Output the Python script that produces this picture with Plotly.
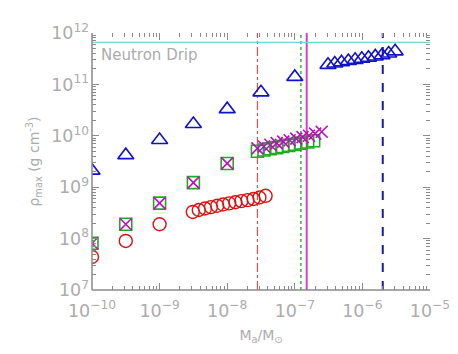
import plotly.graph_objects as go

# 데이터
tri_x = [1e-10, 3.16e-10, 1e-9, 3.16e-9, 1e-8, 3.16e-8, 1e-7,
         3.1e-7, 3.9e-7, 4.9e-7, 6.2e-7, 7.8e-7, 9.8e-7, 1.23e-6, 1.55e-6, 1.95e-6, 2.45e-6, 3.05e-6]
tri_y = [2.1e9, 4.2e9, 8.3e9, 1.7e10, 3.3e10, 7.0e10, 1.4e11,
         2.4e11, 2.55e11, 2.7e11, 2.85e11, 3.0e11, 3.15e11, 3.3e11, 3.5e11, 3.7e11, 4.0e11, 4.4e11]

circ_x = [1e-10, 3.16e-10, 1e-9,
          3.1e-9, 3.8e-9, 4.7e-9, 5.75e-9, 7.1e-9, 8.7e-9, 1.07e-8, 1.32e-8, 1.62e-8, 2.0e-8, 2.45e-8, 3.0e-8, 3.7e-8]
circ_y = [4.4e7, 9.0e7, 1.9e8,
          3.3e8, 3.6e8, 3.85e8, 4.1e8, 4.35e8, 4.6e8, 4.85e8, 5.1e8, 5.35e8, 5.6e8, 5.9e8, 6.3e8, 6.8e8]

sq_x = [1e-10, 3.16e-10, 1e-9, 3.16e-9, 1e-8,
        2.8e-8, 3.5e-8, 4.3e-8, 5.4e-8, 6.6e-8, 8.1e-8, 1.0e-7, 1.23e-7, 1.55e-7, 1.9e-7]
sq_y = [8.1e7, 1.9e8, 4.9e8, 1.23e9, 2.9e9,
        5.0e9, 5.3e9, 5.6e9, 5.9e9, 6.2e9, 6.5e9, 6.8e9, 7.2e9, 7.6e9, 8.0e9]

cross_x = [1e-10, 3.16e-10, 1e-9, 3.16e-9, 1e-8,
           2.8e-8, 3.5e-8, 4.35e-8, 5.4e-8, 6.75e-8, 8.4e-8, 1.05e-7, 1.3e-7, 1.62e-7, 2.0e-7, 2.5e-7]
cross_y = [8.1e7, 1.9e8, 4.9e8, 1.23e9, 2.9e9,
           5.7e9, 6.2e9, 6.7e9, 7.2e9, 7.7e9, 8.2e9, 8.8e9, 9.4e9, 1.0e10, 1.1e10, 1.2e10]

neutron_drip = 6.6e11
vlines_x = [2.8e-8, 1.23e-7, 1.5e-7, 2.0e-6]
vlines_color = ['#e05050', '#33bb33', '#cc44cc', '#1a1aaa']
vlines_dash = ['dashdot', 'dot', 'solid', 'dash']
vlines_width = [1.2, 1.5, 2, 2]

x_lo, x_hi = 1e-10, 1e-5
y_lo, y_hi = 1e7, 1e12
gray = '#8a8a8a'
txt = '#acacac'

fig = go.Figure()

# 1. 세로선들
for xv, c, d, w in zip(vlines_x, vlines_color, vlines_dash, vlines_width):
    fig.add_trace(go.Scatter(x=[xv, xv], y=[y_lo, y_hi], mode='lines',
                             line=dict(color=c, dash=d, width=w), hoverinfo='skip'))

# 2. 중성자 드립 선
fig.add_trace(go.Scatter(x=[x_lo, x_hi], y=[neutron_drip, neutron_drip], mode='lines',
                         line=dict(color='#6fd8d0', width=1.3), hoverinfo='skip'))

# 3. 마커
fig.add_trace(go.Scatter(x=circ_x, y=circ_y, mode='markers',
                         marker=dict(symbol='circle-open', size=13, color='#dd1111', line=dict(width=1.4))))
fig.add_trace(go.Scatter(x=sq_x, y=sq_y, mode='markers',
                         marker=dict(symbol='square-open', size=12, color='#22aa22', line=dict(width=1.6))))
fig.add_trace(go.Scatter(x=cross_x, y=cross_y, mode='markers',
                         marker=dict(symbol='x-thin-open', size=12, color='#bb11bb', line=dict(width=1.6))))
fig.add_trace(go.Scatter(x=tri_x, y=tri_y, mode='markers',
                         marker=dict(symbol='triangle-up-open', size=14, color='#1111cc', line=dict(width=1.6))))

# 왼쪽/아래 축선 (위/오른쪽은 눈금만)
fig.add_shape(type='line', xref='paper', yref='paper', x0=0, x1=0, y0=0, y1=1,
              line=dict(color=gray, width=1.5))
fig.add_shape(type='line', xref='paper', yref='paper', x0=0, x1=1, y0=0, y1=0,
              line=dict(color=gray, width=1.5))

fig.add_annotation(x=0.022, y=0.915, xref='paper', yref='paper', text='Neutron Drip',
                   showarrow=False, xanchor='left', yanchor='middle',
                   font=dict(family='DejaVu Sans', size=15, color=txt))

axis_common = dict(type='log', showgrid=False, zeroline=False, showline=False,
                   mirror='ticks', ticks='inside', ticklen=7, tickcolor=gray, automargin=False,
                   dtick=1, exponentformat='power', showexponent='all',
                   tickfont=dict(family='DejaVu Sans', size=14, color=txt),
                   minor=dict(ticks='inside', ticklen=4, tickcolor=gray, showgrid=False))

fig.update_xaxes(range=[-10, -5], ticklabelstandoff=8,
                 title=dict(text='M<sub>a</sub>/M<sub>⊙</sub>', standoff=10,
                            font=dict(family='DejaVu Sans', size=14, color=txt)), **axis_common)
fig.update_yaxes(range=[7, 12], ticklabelstandoff=2,
                 title=dict(text='ρ<sub>max</sub> (g cm<sup>-3</sup>)', standoff=8,
                            font=dict(family='DejaVu Sans', size=14, color=txt)), **axis_common)

# 페이지 기본 여백(8px)을 감안한 크기
fig.update_layout(width=450, height=346, showlegend=False,
                  margin=dict(l=84, r=28, t=25, b=64),
                  plot_bgcolor='white', paper_bgcolor='white')

fig.write_html("out.html")
